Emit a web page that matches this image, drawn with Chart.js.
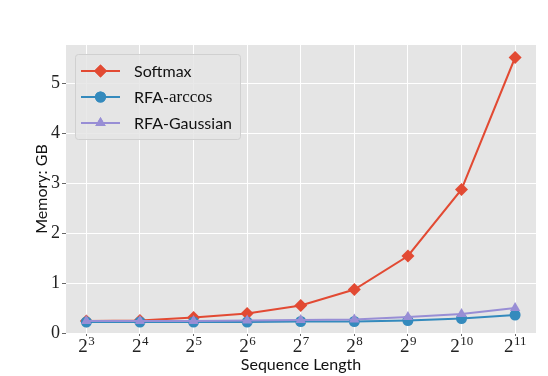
<!DOCTYPE html>
<html lang="en">
<head>
    <meta charset="UTF-8">
    <title>Memory vs Sequence Length</title>
    <script src="https://cdn.jsdelivr.net/npm/chart.js"></script>
    <style>
        html, body {
            margin: 0;
            padding: 0;
            background: #ffffff;
        }
        .wrap {
            width: 548px;
            height: 376px;
        }
    </style>
</head>
<body>
    <div class="wrap">
        <canvas id="memChart" width="548" height="376"></canvas>
    </div>

    <script>
        // exponents of the sequence length (2^k)
        const exponents = [3, 4, 5, 6, 7, 8, 9, 10, 11];
        const tickBase = '2';
        const yTicks = [0, 1, 2, 3, 4, 5];

        // memory in GB
        const softmaxMem  = [0.24, 0.25, 0.31, 0.39, 0.55, 0.87, 1.54, 2.87, 5.51];
        const arccosMem   = [0.22, 0.22, 0.22, 0.22, 0.23, 0.23, 0.25, 0.29, 0.36];
        const gaussianMem = [0.24, 0.24, 0.24, 0.25, 0.26, 0.27, 0.32, 0.38, 0.50];

        const SANS = 'Lato, "Open Sans", sans-serif';
        const SERIF = '"Liberation Serif", "DejaVu Serif", serif';

        function toPoints(vals) {
            return exponents.map((e, i) => ({ x: e, y: vals[i] }));
        }

        // x tick labels as 2 with a raised exponent
        const powerTicks = {
            id: 'powerTicks',
            afterDraw(chart) {
                const ctx = chart.ctx;
                const sx = chart.scales.x;
                ctx.save();
                ctx.fillStyle = '#222';
                ctx.textBaseline = 'alphabetic';
                ctx.textAlign = 'left';
                exponents.forEach(e => {
                    const px = sx.getPixelForValue(e);
                    const sup = String(e);
                    ctx.font = '19px ' + SERIF;
                    const wb = ctx.measureText(tickBase).width;
                    ctx.font = '13px ' + SERIF;
                    const ws = ctx.measureText(sup).width;
                    const start = px - (wb + ws) / 2;
                    ctx.font = '19px ' + SERIF;
                    ctx.fillText(tickBase, start, 352);
                    ctx.font = '13px ' + SERIF;
                    ctx.fillText(sup, start + wb + 0.5, 345);
                });
                ctx.restore();
            }
        };

        // legend drawn inside the plot, matplotlib style
        const boxLegend = {
            id: 'boxLegend',
            afterDraw(chart) {
                const ctx = chart.ctx;
                const x0 = 75, y0 = 54, w = 165, h = 85;
                ctx.save();
                ctx.fillStyle = 'rgba(229,229,229,0.85)';
                ctx.strokeStyle = '#d0d0d0';
                ctx.lineWidth = 1;
                ctx.beginPath();
                ctx.roundRect(x0 + 0.5, y0 + 0.5, w, h, 3);
                ctx.fill();
                ctx.stroke();

                const rows = [
                    { ds: chart.data.datasets[0], y: 71, parts: [['Softmax', SANS]] },
                    { ds: chart.data.datasets[1], y: 97, parts: [['RFA-', SANS], ['arccos', SERIF]] },
                    { ds: chart.data.datasets[2], y: 123, parts: [['RFA-Gaussian', SANS]] }
                ];
                rows.forEach(r => {
                    ctx.strokeStyle = r.ds.borderColor;
                    ctx.lineWidth = 2;
                    ctx.beginPath();
                    ctx.moveTo(81, r.y);
                    ctx.lineTo(120, r.y);
                    ctx.stroke();
                    ctx.fillStyle = r.ds.borderColor;
                    Chart.helpers.drawPoint(ctx, {
                        pointStyle: r.ds.pointStyle,
                        radius: r.ds.pointRadius,
                        rotation: 0,
                        borderWidth: 0
                    }, 100.5, r.y);
                    ctx.fill();
                    let tx = 134;
                    ctx.fillStyle = '#111';
                    ctx.textBaseline = 'middle';
                    r.parts.forEach(p => {
                        ctx.font = (p[1] === SERIF ? '17px ' : '16px ') + p[1];
                        ctx.fillText(p[0], tx, r.y + 1);
                        tx += ctx.measureText(p[0]).width;
                    });
                });
                ctx.restore();
            }
        };

        // grey panel behind the plot
        const panelBg = {
            id: 'panelBg',
            beforeDraw(chart) {
                const a = chart.chartArea;
                const ctx = chart.ctx;
                ctx.save();
                ctx.fillStyle = '#E5E5E5';
                ctx.fillRect(a.left, a.top, a.right - a.left, a.bottom - a.top);
                ctx.restore();
            }
        };

        function makeChart() {
            const ctx = document.getElementById('memChart').getContext('2d');
            new Chart(ctx, {
                type: 'line',
                data: {
                    datasets: [
                        {
                            label: 'Softmax',
                            data: toPoints(softmaxMem),
                            borderColor: '#E24A33',
                            backgroundColor: '#E24A33',
                            borderWidth: 2,
                            pointStyle: 'rectRot',
                            pointRadius: 6.5,
                            pointBorderWidth: 0,
                            order: 3
                        },
                        {
                            label: 'RFA-arccos',
                            data: toPoints(arccosMem),
                            borderColor: '#348ABD',
                            backgroundColor: '#348ABD',
                            borderWidth: 2,
                            pointStyle: 'circle',
                            pointRadius: 5.5,
                            pointBorderWidth: 0,
                            order: 2
                        },
                        {
                            label: 'RFA-Gaussian',
                            data: toPoints(gaussianMem),
                            borderColor: '#988ED5',
                            backgroundColor: '#988ED5',
                            borderWidth: 2,
                            pointStyle: 'triangle',
                            pointRadius: 6,
                            pointBorderWidth: 0,
                            order: 1
                        }
                    ]
                },
                options: {
                    responsive: false,
                    animation: false,
                    layout: { padding: { top: 45, right: 12, left: 0, bottom: 0 } },
                    plugins: {
                        legend: { display: false },
                        tooltip: { enabled: false }
                    },
                    scales: {
                        x: {
                            type: 'linear',
                            min: 2.62,
                            max: 11.39,
                            afterBuildTicks: s => { s.ticks = exponents.map(v => ({ value: v })); },
                            afterFit: s => { s.height = 43; },
                            border: { display: false },
                            grid: { color: '#ffffff', lineWidth: 1, tickColor: '#666', tickLength: 3 },
                            ticks: { display: false },
                            title: {
                                display: true,
                                text: 'Sequence Length',
                                color: '#111',
                                font: { family: SANS, size: 16 },
                                padding: { top: 0, bottom: 2 }
                            }
                        },
                        y: {
                            min: 0,
                            max: 5.76,
                            afterBuildTicks: s => { s.ticks = yTicks.map(v => ({ value: v })); },
                            afterFit: s => { s.width = 66; },
                            border: { display: false },
                            grid: { color: '#ffffff', lineWidth: 1, tickColor: '#666', tickLength: 4 },
                            ticks: {
                                color: '#222',
                                font: { family: SERIF, size: 18 },
                                padding: 2
                            },
                            title: {
                                display: true,
                                text: 'Memory: GB',
                                color: '#111',
                                font: { family: SANS, size: 16 },
                                padding: { top: 32, bottom: 0 }
                            }
                        }
                    }
                },
                plugins: [panelBg, powerTicks, boxLegend]
            });
        }

        window.onload = function () {
            makeChart();
        };
    </script>
</body>
</html>
